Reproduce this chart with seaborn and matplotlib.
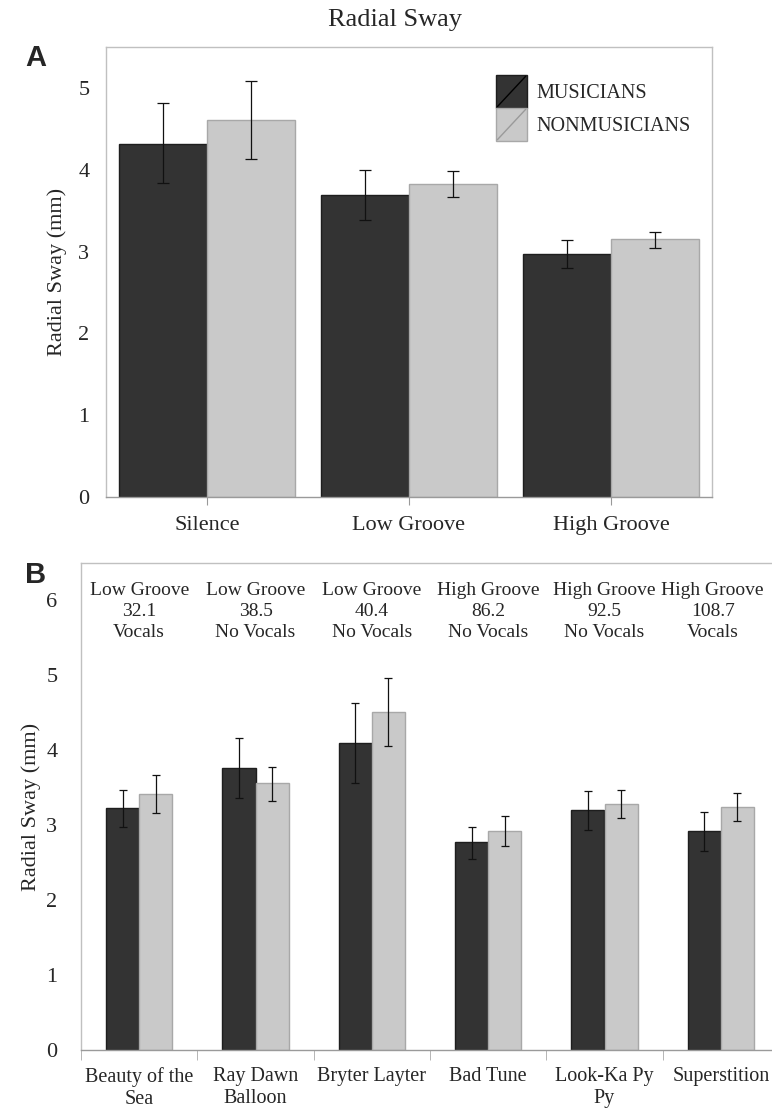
import numpy as np
import pandas as pd
import seaborn as sns
import matplotlib.pyplot as plt
from matplotlib.patches import Rectangle
from matplotlib.lines import Line2D
from matplotlib.legend_handler import HandlerBase

# values
groups = ['MUSICIANS', 'NONMUSICIANS']
conditions = ['Silence', 'Low Groove', 'High Groove']
cond_mus = [4.32, 3.69, 2.97]
cond_mus_lo = [3.84, 3.39, 2.80]
cond_mus_hi = [4.81, 4.00, 3.14]
cond_non = [4.61, 3.83, 3.15]
cond_non_lo = [4.13, 3.67, 3.04]
cond_non_hi = [5.09, 3.98, 3.24]

songs = ['Beauty of the\nSea', 'Ray Dawn\nBalloon', 'Bryter Layter', 'Bad Tune',
         'Look-Ka Py\nPy', 'Superstition']
song_info = ['Low Groove\n32.1\nVocals', 'Low Groove\n38.5\nNo Vocals',
             'Low Groove\n40.4\nNo Vocals', 'High Groove\n86.2\nNo Vocals',
             'High Groove\n92.5\nNo Vocals', 'High Groove\n108.7\nVocals']
song_mus = [3.23, 3.76, 4.10, 2.77, 3.20, 2.92]
song_mus_lo = [2.97, 3.36, 3.56, 2.55, 2.94, 2.66]
song_mus_hi = [3.47, 4.16, 4.63, 2.97, 3.46, 3.17]
song_non = [3.42, 3.57, 4.51, 2.92, 3.29, 3.24]
song_non_lo = [3.16, 3.33, 4.06, 2.72, 3.09, 3.05]
song_non_hi = [3.67, 3.78, 4.96, 3.12, 3.47, 3.43]

dark = '#333333'
light = '#c9c9c9'
frame = '#c0c0c0'

sns.set_style('white')
plt.rcParams['font.family'] = ['Liberation Serif', 'DejaVu Serif']


def long_df(cats, mus, non):
    return pd.DataFrame({
        'cat': list(cats) * 2,
        'group': [groups[0]] * len(cats) + [groups[1]] * len(cats),
        'val': list(mus) + list(non),
    })


def add_errs(ax, means, lows, highs, capsize):
    for cont, m, lo, hi in zip(ax.containers, means, lows, highs):
        xs = [p.get_x() + p.get_width() / 2 for p in cont]
        m = np.array(m)
        err = [m - np.array(lo), np.array(hi) - m]
        ax.errorbar(xs, m, yerr=err, fmt='none', ecolor='#111111',
                    elinewidth=0.9, capsize=capsize, capthick=0.9, zorder=5)


def style_bars(ax):
    for cont, ec in zip(ax.containers, ['#1e1e1e', '#a8a8a8']):
        for p in cont:
            p.set_edgecolor(ec)
            p.set_linewidth(1.0)


class DiagHandler(HandlerBase):
    def create_artists(self, legend, orig_handle, xdescent, ydescent,
                       width, height, fontsize, trans):
        r = Rectangle((-xdescent, -ydescent), width, height,
                      facecolor=orig_handle.get_facecolor(),
                      edgecolor=orig_handle.get_edgecolor(), lw=1.0,
                      transform=trans)
        ln = Line2D([-xdescent + 1, -xdescent + width - 1],
                    [-ydescent + 1, -ydescent + height - 1],
                    color=orig_handle.diag, lw=1.0, transform=trans)
        return [r, ln]


fig = plt.figure(figsize=(7.72, 11.09), dpi=100)
fig.patch.set_facecolor('white')

# ---- panel A
axA = fig.add_axes([106 / 772, 1 - 497 / 1109, 606 / 772, 450 / 1109])
dfA = long_df(conditions, cond_mus, cond_non)
sns.barplot(data=dfA, x='cat', y='val', hue='group', palette=[dark, light],
            width=0.876, gap=0, errorbar=None, legend=False, saturation=1, ax=axA)
style_bars(axA)
add_errs(axA, [cond_mus, cond_non], [cond_mus_lo, cond_non_lo],
         [cond_mus_hi, cond_non_hi], 4.3)
axA.set_ylim(0, 5.5)
axA.set_xlim(-0.5, 2.5)
axA.set_yticks([0, 1, 2, 3, 4, 5])
axA.set_xlabel('')
axA.set_ylabel('Radial Sway (mm)', fontsize=16, labelpad=8)
axA.tick_params(axis='y', length=0, pad=12, labelsize=16)
axA.tick_params(axis='x', length=6, color='#999999', direction='out',
                pad=8, labelsize=16, bottom=True)
for s in axA.spines.values():
    s.set_color(frame)
    s.set_linewidth(1.0)
axA.spines['bottom'].set_color('#9a9a9a')
fig.text(395 / 772, 1 - 20 / 1109, 'Radial Sway', fontsize=19,
         ha='center', va='center')

hm = Rectangle((0, 0), 1, 1, facecolor=dark, edgecolor='#1e1e1e')
hm.diag = '#000000'
hn = Rectangle((0, 0), 1, 1, facecolor=light, edgecolor='#a8a8a8')
hn.diag = '#9a9a9a'
axA.legend([hm, hn], groups, handler_map={Rectangle: DiagHandler()},
           loc='upper left', bbox_to_anchor=(0.6436, 0.938), frameon=False,
           fontsize=14.5, handleheight=2.15, handlelength=1.54,
           handletextpad=0.45, labelspacing=0, borderpad=0, borderaxespad=0)

# ---- panel B
axB = fig.add_axes([81 / 772, 1 - 1050 / 1109, 698 / 772, 487 / 1109])
dfB = long_df(songs, song_mus, song_non)
sns.barplot(data=dfB, x='cat', y='val', hue='group', palette=[dark, light],
            width=0.57, gap=0, errorbar=None, legend=False, saturation=1, ax=axB)
style_bars(axB)
add_errs(axB, [song_mus, song_non], [song_mus_lo, song_non_lo],
         [song_mus_hi, song_non_hi], 3.2)
axB.set_ylim(0, 6.5)
axB.set_xlim(-0.5, len(songs) - 0.5)
axB.set_yticks([0, 1, 2, 3, 4, 5, 6])
axB.set_xlabel('')
axB.set_ylabel('Radial Sway (mm)', fontsize=16, labelpad=4)
axB.tick_params(axis='y', length=0, pad=17, labelsize=16)
axB.tick_params(axis='x', which='major', length=0, pad=12, labelsize=14.5)
for lab in axB.get_xticklabels():
    lab.set_linespacing(1.22)
axB.set_xticks(np.arange(len(songs) + 1) - 0.5, minor=True)
axB.tick_params(axis='x', which='minor', length=7, color='#aaaaaa',
                direction='out', bottom=True)
for s in axB.spines.values():
    s.set_color(frame)
    s.set_linewidth(1.0)
axB.spines['bottom'].set_color('#9a9a9a')
for i, info in enumerate(song_info):
    # the last note is nudged left in the original so it fits the frame
    xi = i - 0.07 if i == len(song_info) - 1 else i
    axB.text(xi, 5.85, info, ha='center', va='center', fontsize=14,
             linespacing=1.33)

fig.text(25 / 772, 1 - 58 / 1109, 'A', fontsize=21, fontweight='bold',
         family='Liberation Sans', ha='left', va='center')
fig.text(25 / 772, 1 - 575 / 1109, 'B', fontsize=21, fontweight='bold',
         family='Liberation Sans', ha='left', va='center')

fig.savefig('out.png', dpi=100, facecolor='white')
